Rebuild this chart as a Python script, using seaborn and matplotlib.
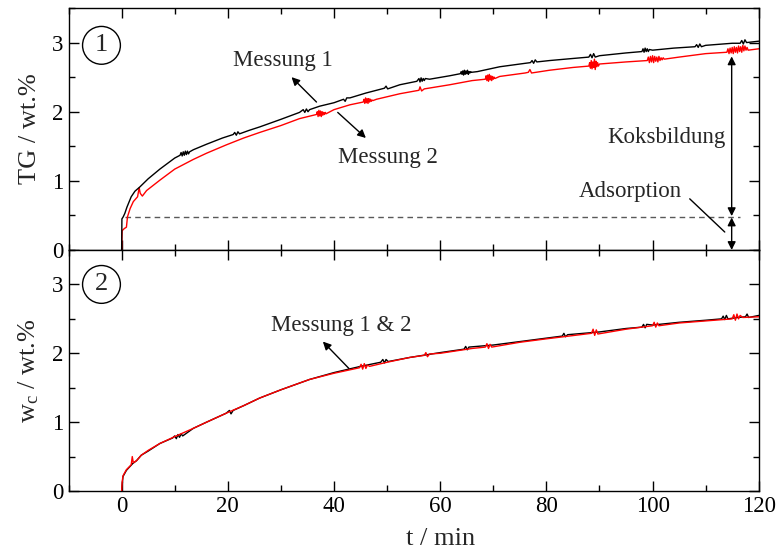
import matplotlib
matplotlib.use("Agg")
import matplotlib.pyplot as plt
import seaborn as sns
import pandas as pd
from matplotlib.ticker import MultipleLocator

# ---------------- data ----------------
# Panel 1: TG / wt.% , Messung 1 (black)
t_tg1 = [0, 0.05, 0.3, 0.6, 1.0, 1.8, 2.5, 3.4, 5.0, 7.2, 10.0,
         11.0, 11.2, 11.4, 11.6, 11.8, 12.0, 12.2, 12.4, 12.6, 12.8, 13.5, 16.0, 19.0, 21.0,
         21.3, 21.6, 21.9, 22.2, 24.0, 26.0, 30.0, 33.5, 34.2, 34.5, 34.8, 35.1, 35.4, 37.3,
         40.0, 41.8, 42.1, 42.4, 43.0, 46.0, 49.5, 49.8, 50.1, 52.4, 55.6,
         56.0, 56.2, 56.4, 56.6, 56.8, 57.0, 57.2, 58.0, 61.8,
         63.8, 63.95, 64.1, 64.25, 64.4, 64.55, 64.7, 64.85, 65.0, 65.15, 65.3, 65.45, 65.6, 65.75, 65.9,
         67.0, 71.2, 76.0, 77.0, 77.3, 77.6, 77.9, 78.2, 80.6, 85.0, 88.0, 88.3, 88.6, 88.9, 89.2, 90.0, 95.0,
         98.0, 98.2, 98.4, 98.6, 98.8, 99.0, 99.2, 99.4, 100.0, 104.0, 108.0, 108.3, 108.6, 108.9,
         109.2, 110.0, 115.0, 116.5, 116.8, 117.1, 117.4, 117.7, 120.0]
tg1 = [0.00, 0.45, 0.48, 0.53, 0.62, 0.77, 0.85, 0.91, 1.03, 1.17, 1.33,
       1.37, 1.41, 1.36, 1.42, 1.37, 1.43, 1.38, 1.43, 1.39, 1.42, 1.45, 1.53, 1.62, 1.67,
       1.70, 1.66, 1.71, 1.68, 1.73, 1.78, 1.89, 1.99, 2.03, 1.99, 2.04, 2.00, 2.03, 2.08,
       2.13, 2.18, 2.15, 2.20, 2.20, 2.27, 2.34, 2.37, 2.33, 2.39, 2.44,
       2.48, 2.43, 2.49, 2.44, 2.48, 2.45, 2.48, 2.47, 2.52,
       2.55, 2.58, 2.54, 2.59, 2.53, 2.60, 2.54, 2.59, 2.55, 2.60, 2.54, 2.58, 2.56, 2.58, 2.57,
       2.58, 2.65, 2.70, 2.71, 2.74, 2.70, 2.75, 2.72, 2.74, 2.77, 2.79, 2.83, 2.78, 2.84, 2.79, 2.81, 2.85,
       2.87, 2.91, 2.86, 2.92, 2.87, 2.91, 2.87, 2.90, 2.89, 2.92, 2.94, 2.97, 2.93, 2.98,
       2.94, 2.96, 2.99, 2.99, 3.03, 2.98, 3.04, 3.00, 3.02]

# Panel 1: TG / wt.% , Messung 2 (red)
t_tg2 = [0, 0.1, 0.5, 0.9, 1.1, 1.6, 2.2, 3.0, 3.3, 3.5, 3.9, 4.7, 7.2, 10.0, 13.5, 16.0, 19.7, 23.0, 26.0, 30.0, 33.5,
         36.7, 36.85, 37.0, 37.15, 37.3, 37.45, 37.6, 37.75, 37.9, 38.05, 38.2, 38.35, 38.5,
         40.0, 43.0,
         45.5, 45.65, 45.8, 45.95, 46.1, 46.25, 46.4, 46.55, 46.7, 46.85, 47.0, 47.15, 47.3,
         48.0, 52.4, 56.0, 56.2, 56.5, 57.0, 61.8, 66.0,
         68.5, 68.65, 68.8, 68.95, 69.1, 69.25, 69.4, 69.55, 69.7, 69.85, 70.0, 70.15, 70.3,
         71.2, 76.0, 76.6, 76.9, 77.2, 80.6, 85.0,
         88.0, 88.15, 88.3, 88.45, 88.6, 88.75, 88.9, 89.05, 89.2, 89.35, 89.5, 89.65, 89.8, 90.0,
         95.0,
         99.0, 99.2, 99.4, 99.6, 99.8, 100.0, 100.2, 100.4, 100.6, 100.8, 101.0, 101.2, 101.4, 101.6, 101.8, 102.0, 102.2,
         105.0, 110.0,
         114.0, 114.2, 114.4, 114.6, 114.8, 115.0, 115.2, 115.4, 115.6, 115.8, 116.0, 116.2, 116.4, 116.6,
         116.8, 117.0, 117.2, 117.4, 117.6, 117.8, 118.0,
         119.0, 120.0]
tg2 = [0.00, 0.28, 0.31, 0.33, 0.48, 0.60, 0.70, 0.77, 0.90, 0.82, 0.78, 0.86, 1.01, 1.17, 1.31, 1.40, 1.52, 1.62, 1.70, 1.80, 1.90,
       1.96, 2.00, 1.93, 2.02, 1.94, 2.01, 1.93, 2.00, 1.95, 1.99, 1.96, 1.99, 1.97,
       2.03, 2.10,
       2.14, 2.18, 2.12, 2.20, 2.13, 2.19, 2.12, 2.19, 2.14, 2.18, 2.15, 2.17, 2.16,
       2.18, 2.26, 2.31, 2.36, 2.30, 2.33, 2.39, 2.45,
       2.47, 2.52, 2.45, 2.53, 2.44, 2.54, 2.46, 2.52, 2.45, 2.51, 2.47, 2.50, 2.48,
       2.51, 2.56, 2.57, 2.61, 2.56, 2.60, 2.64,
       2.66, 2.71, 2.63, 2.74, 2.62, 2.72, 2.64, 2.76, 2.61, 2.73, 2.65, 2.71, 2.66, 2.69,
       2.72,
       2.74, 2.79, 2.71, 2.80, 2.72, 2.81, 2.71, 2.80, 2.73, 2.79, 2.72, 2.80, 2.74, 2.78, 2.75, 2.78, 2.76,
       2.79, 2.84,
       2.86, 2.91, 2.84, 2.92, 2.85, 2.93, 2.84, 2.94, 2.86, 2.93, 2.85, 2.95, 2.87, 2.94,
       2.86, 2.96, 2.88, 2.95, 2.89, 2.93, 2.89,
       2.90, 2.91]

# Panel 2: w_c / wt.% , Messung 1 (black)
t_w1 = [0, 0.25, 0.9, 2.1, 2.8, 3.7, 5.0, 7.2, 9.6, 10.0, 10.3, 10.6, 10.9,
        11.2, 11.5, 13.5, 16.0, 19.7, 20.3, 20.6, 21.0, 23.0, 26.0, 30.0,
        35.4, 40.0, 45.0, 48.8, 49.2, 49.5, 49.8, 50.2, 54.3, 60.0, 64.5,
        64.8, 65.1, 65.4, 70.0, 75.0, 80.0, 83.0, 83.3, 83.6, 84.0, 90.0,
        95.0, 98.0, 98.3, 98.6, 98.9, 100.0, 105.0, 110.0, 113.0, 113.3,
        113.6, 113.9, 114.2, 116.0, 117.5, 117.8, 118.1, 120.0]
w1 = [0.00, 0.21, 0.30, 0.40, 0.44, 0.52, 0.58, 0.69, 0.77, 0.80, 0.76,
      0.82, 0.78, 0.83, 0.80, 0.91, 1.00, 1.13, 1.17, 1.12, 1.17, 1.24,
      1.35, 1.47, 1.62, 1.72, 1.81, 1.87, 1.91, 1.86, 1.91, 1.88, 1.94,
      2.01, 2.06, 2.10, 2.05, 2.09, 2.12, 2.17, 2.22, 2.25, 2.29, 2.24,
      2.27, 2.31, 2.36, 2.38, 2.42, 2.37, 2.42, 2.41, 2.45, 2.48, 2.50,
      2.54, 2.49, 2.55, 2.50, 2.52, 2.53, 2.57, 2.52, 2.55]

# Panel 2: w_c / wt.% , Messung 2 (red)
t_w2 = [0, 0.1, 0.25, 0.9, 1.8, 2.0, 2.2, 2.8, 3.7, 5.0, 7.2, 10.0, 13.5,
        16.0, 19.7, 23.0, 26.0, 30.0, 35.4, 40.0, 44.8, 45.1, 45.4, 45.7,
        46.0, 46.3, 46.7, 50.0, 54.3, 57.0, 57.3, 57.6, 58.0, 60.0, 66.0,
        68.5, 68.8, 69.1, 69.4, 69.7, 75.0, 80.0, 88.5, 88.8, 89.1, 89.4,
        89.7, 95.0, 100.0, 100.3, 100.6, 100.9, 101.2, 105.0, 110.0, 115.0,
        115.3, 115.6, 115.9, 116.2, 116.5, 117.0, 120.0]
w2 = [0.00, 0.13, 0.22, 0.31, 0.38, 0.50, 0.41, 0.44, 0.52, 0.59, 0.69,
      0.79, 0.91, 1.00, 1.13, 1.24, 1.35, 1.47, 1.62, 1.71, 1.79, 1.84,
      1.77, 1.85, 1.78, 1.83, 1.81, 1.87, 1.94, 1.97, 2.01, 1.95, 1.99,
      2.00, 2.07, 2.09, 2.14, 2.07, 2.13, 2.09, 2.16, 2.21, 2.29, 2.35,
      2.26, 2.34, 2.28, 2.35, 2.40, 2.45, 2.38, 2.44, 2.40, 2.44, 2.47,
      2.50, 2.56, 2.48, 2.57, 2.50, 2.55, 2.52, 2.53]

adsorption_level = 0.48
arrow_t = 114.9
koks_top = 2.80

# ---------------- style ----------------
sns.set_theme(style="ticks")
plt.rcParams["font.family"] = ["Liberation Serif", "DejaVu Serif"]
plt.rcParams["mathtext.fontset"] = "custom"
plt.rcParams["mathtext.rm"] = "Liberation Serif"
plt.rcParams["mathtext.it"] = "Liberation Serif:italic"
plt.rcParams["axes.linewidth"] = 1.0
plt.rcParams["axes.edgecolor"] = "black"

fig = plt.figure(figsize=(7.79, 5.52), dpi=100)
L, R = 0.088, 0.974
ybot, ymid, ytop = 1 - 491 / 552, 1 - 250 / 552, 1 - 8 / 552
ax1 = fig.add_axes([L, ymid, R - L, ytop - ymid])
ax2 = fig.add_axes([L, ybot, R - L, ymid - ybot])

df_tg1 = pd.DataFrame({"t": t_tg1, "y": tg1})
df_tg2 = pd.DataFrame({"t": t_tg2, "y": tg2})
df_w1 = pd.DataFrame({"t": t_w1, "y": w1})
df_w2 = pd.DataFrame({"t": t_w2, "y": w2})

sns.lineplot(data=df_tg1, x="t", y="y", ax=ax1, color="black", lw=1.0, estimator=None, zorder=3)
sns.lineplot(data=df_tg2, x="t", y="y", ax=ax1, color="#ff0000", lw=1.0, estimator=None, zorder=2)
sns.lineplot(data=df_w1, x="t", y="y", ax=ax2, color="black", lw=1.0, estimator=None, zorder=2)
sns.lineplot(data=df_w2, x="t", y="y", ax=ax2, color="#ff0000", lw=1.0, estimator=None, zorder=3)

for ax in (ax1, ax2):
    ax.set_xlim(-10, 120)
    ax.set_ylim(0, 3.5)
    ax.xaxis.set_major_locator(MultipleLocator(20))
    ax.xaxis.set_minor_locator(MultipleLocator(10))
    ax.yaxis.set_major_locator(MultipleLocator(1))
    ax.yaxis.set_minor_locator(MultipleLocator(0.5))
    ax.tick_params(which="both", direction="in", top=True, right=True,
                   width=1.0, colors="black", labelsize=16.5)
    ax.tick_params(which="major", length=7.5)
    ax.tick_params(which="minor", length=4)
    for s in ax.spines.values():
        s.set_visible(True)
        s.set_color("black")
        s.set_linewidth(1.0)
    ax.set_xlabel("")
    ax.set_ylabel("")

ax1.tick_params(labelbottom=False)
ax1.set_ylabel("TG / wt.%", fontsize=19, labelpad=8)
ax2.set_ylabel("w$_{\\mathregular{c}}$ / wt.%", fontsize=19, labelpad=8)
ax2.set_xlabel("t / min", fontsize=19)
ax2.xaxis.set_label_coords(0.539, -0.155)

# panel numbers
circ = dict(boxstyle="circle,pad=0.3", fc="none", ec="black", lw=1.0)
ax1.text(-3.8, 2.96, "1", fontsize=19, ha="center", va="center", bbox=circ)
ax2.text(-3.8, 3.0, "2", fontsize=19, ha="center", va="center", bbox=circ)

# dashed adsorption level
ax1.plot([0.7, 116.4], [adsorption_level, adsorption_level], ls=(0, (4, 3)),
         color="0.35", lw=1.0, zorder=1)

ap = dict(arrowstyle="-|>", color="black", lw=1.0, mutation_scale=12, shrinkA=0, shrinkB=0)
ax1.annotate("", xy=(32.0, 2.50), xytext=(36.7, 2.14), arrowprops=ap)
ax1.text(30.3, 2.74, "Messung 1", fontsize=16.5, ha="center", va="center")
ax1.annotate("", xy=(46.0, 1.62), xytext=(40.7, 1.99), arrowprops=ap)
ax1.text(50.1, 1.34, "Messung 2", fontsize=16.5, ha="center", va="center")

ax2.annotate("", xy=(37.9, 2.17), xytext=(42.8, 1.78), arrowprops=ap)
ax2.text(41.4, 2.41, "Messung 1 & 2", fontsize=16.5, ha="center", va="center")

dap = dict(arrowstyle="<|-|>", color="black", lw=1.0, mutation_scale=12, shrinkA=0, shrinkB=0)
ax1.annotate("", xy=(arrow_t, koks_top), xytext=(arrow_t, adsorption_level + 0.01), arrowprops=dap)
ax1.annotate("", xy=(arrow_t, adsorption_level - 0.01), xytext=(arrow_t, 0.0), arrowprops=dap)
ax1.text(102.7, 1.63, "Koksbildung", fontsize=16.5, ha="center", va="center")
ax1.text(95.9, 0.84, "Adsorption", fontsize=16.5, ha="center", va="center")
ax1.plot([107.0, 113.6], [0.74, 0.26], color="black", lw=1.0)

fig.savefig("out.png", dpi=100)
